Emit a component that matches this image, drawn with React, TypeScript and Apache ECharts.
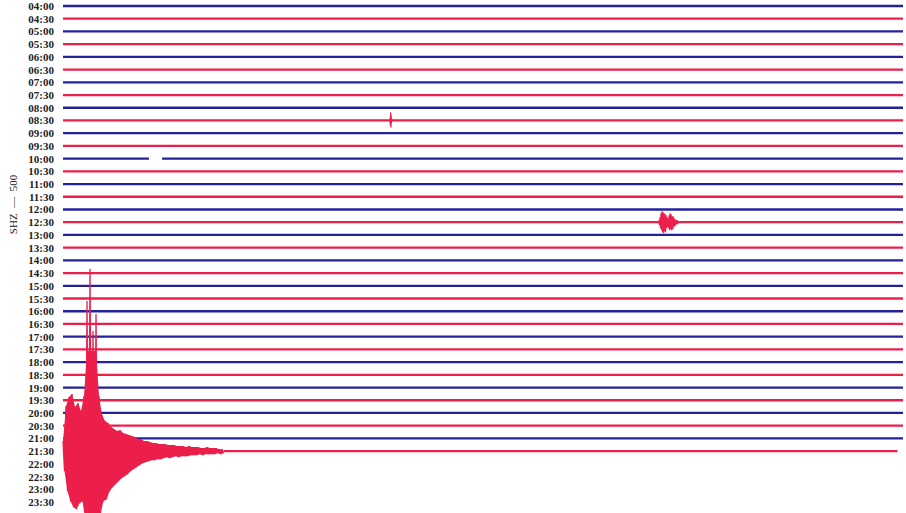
import React, { useEffect, useRef } from "react";
import * as echarts from "echarts";

// Helicorder rows: one line per 30 minutes
const ROW_LABELS = [
  "04:00", "04:30", "05:00", "05:30", "06:00", "06:30", "07:00", "07:30",
  "08:00", "08:30", "09:00", "09:30", "10:00", "10:30", "11:00", "11:30",
  "12:00", "12:30", "13:00", "13:30", "14:00", "14:30", "15:00", "15:30",
  "16:00", "16:30", "17:00", "17:30", "18:00", "18:30", "19:00", "19:30",
  "20:00", "20:30", "21:00", "21:30", "22:00", "22:30", "23:00", "23:30",
];
const ROW_MINUTES = 30; // minutes per row
const LAST_ROW = 35; // 21:30, the row being recorded
const LAST_ROW_END = 29.8; // minutes recorded in the last row
const AMP_PER_ROW = 12.7; // amplitude units per row spacing
const CHANNEL = "SHZ  \u2014  500";

// Data gap in the 10:00 row (minutes)
const GAP_ROW = 12;
const GAP_FROM = 3.07;
const GAP_TO = 3.54;

// Small local event, 08:30 row
const SPIKE_ROW = 9;
const SPIKE_START = 11.67;
const SPIKE_STEP = 0.008;
const SPIKE_AMPS = [1, -2, 3, -5, 8, -7, 5, -3, 2, -1];

// Regional event, 12:30 row
const EVENT_ROW = 17;
const EVENT_START = 21.286;
const EVENT_STEP = 0.018;
const EVENT_AMPS = [
  2, -3, 5, -6, 9, -8, 11, -10, 10, -11, 9, -9, 8, -10, 7, -6, 5, -5, 4, -6,
  7, -8, 9, -7, 8, -8, 6, -7, 6, -5, 4, -4, 3, -3, 2, -2, 2, -2,
];

// Large earthquake at the start of the 21:30 row (alternating peaks)
const QUAKE_START = 0;
const QUAKE_STEP = 0.0536;
const QUAKE_AMPS = [
  10, -20, 45, -40, 54, -50, 57, -56, 44, -58,
  48, -52, 40, -50, 55, -70, 150, -75, 182, -80,
  120, -80, 137, -70, 55, -62, 36, -50, 30, -48,
  28, -40, 24, -36, 22, -33, 20, -30, 21, -27,
  18, -25, 17, -23, 16, -20, 15, -18, 14, -16,
  12, -14, 12, -12, 10, -11, 10, -10, 9, -9,
  8, -9, 8, -8, 7, -8, 7, -7, 7, -6,
  6, -7, 6, -6, 6, -5, 5, -6, 5, -5,
  5, -5, 4, -5, 5, -4, 4, -4, 4, -4,
  4, -3, 3, -4, 3, -3, 4, -3, 3, -3,
  3, -3, 3, -2, 2, -3, 2, -2,
];
const QUAKE_SOLID_CAP = 100; // above this the trace shows as separate spikes

const BLUE = "#22229f";
const RED = "#ec1f4b";

function eventPoints(row: number, start: number, step: number, amps: number[]) {
  return amps.map((a, k) => [start + k * step, row - a / AMP_PER_ROW]);
}

function buildOption() {
  const series: any[] = [];
  for (let r = 0; r <= LAST_ROW; r++) {
    const color = r % 2 === 0 ? BLUE : RED;
    const end = r === LAST_ROW ? LAST_ROW_END : ROW_MINUTES;
    let data: any[] = [];
    if (r === GAP_ROW) {
      data = [[0, r], [GAP_FROM, r], [(GAP_FROM + GAP_TO) / 2, null], [GAP_TO, r], [end, r]];
    } else if (r === LAST_ROW) {
      const lastX = QUAKE_START + (QUAKE_AMPS.length - 1) * QUAKE_STEP;
      data = [[lastX, r], [end, r]];
    } else {
      data = [[0, r], [end, r]];
    }
    series.push({
      type: "line",
      data,
      showSymbol: false,
      symbol: "none",
      silent: true,
      clip: false,
      connectNulls: false,
      lineStyle: { color, width: 2.3 },
      z: 2,
    });
  }

  // solid body of the earthquake: envelope of the recorded peaks
  series.push({
    type: "custom",
    coordinateSystem: "cartesian2d",
    silent: true,
    clip: false,
    z: 4,
    data: [[QUAKE_START, LAST_ROW]],
    renderItem: (_params: any, api: any) => {
      const upper: number[][] = [];
      const lower: number[][] = [];
      QUAKE_AMPS.forEach((a, k) => {
        const x = QUAKE_START + k * QUAKE_STEP;
        if (a >= 0) {
          upper.push(api.coord([x, LAST_ROW - Math.min(a, QUAKE_SOLID_CAP) / AMP_PER_ROW]));
        } else {
          lower.push(api.coord([x, LAST_ROW - a / AMP_PER_ROW]));
        }
      });
      return {
        type: "polygon",
        shape: { points: upper.concat(lower.reverse()) },
        style: { fill: RED },
      };
    },
  });

  const events: [number, number, number, number[]][] = [
    [SPIKE_ROW, SPIKE_START, SPIKE_STEP, SPIKE_AMPS],
    [EVENT_ROW, EVENT_START, EVENT_STEP, EVENT_AMPS],
    [LAST_ROW, QUAKE_START, QUAKE_STEP, QUAKE_AMPS],
  ];
  events.forEach(([row, start, step, amps]) => {
    series.push({
      type: "line",
      data: eventPoints(row, start, step, amps),
      showSymbol: false,
      symbol: "none",
      silent: true,
      clip: false,
      lineStyle: { color: row % 2 === 0 ? BLUE : RED, width: 1.3 },
      z: 5,
    });
  });

  return {
    animation: false,
    backgroundColor: "#ffffff",
    grid: { left: 63, right: 3, top: 6, bottom: 11 },
    xAxis: {
      type: "value",
      min: 0,
      max: ROW_MINUTES,
      show: false,
    },
    yAxis: {
      type: "value",
      inverse: true,
      min: 0,
      max: ROW_LABELS.length - 1,
      interval: 1,
      axisLine: { show: false },
      axisTick: { show: false },
      splitLine: { show: false },
      axisLabel: {
        margin: 9,
        fontFamily: "Liberation Serif",
        fontSize: 11,
        fontWeight: "bold",
        color: "#222",
        formatter: (v: number) => ROW_LABELS[Math.round(v)] ?? "",
      },
    },
    graphic: [
      {
        type: "text",
        x: 12.5,
        y: 204.5,
        rotation: Math.PI / 2,
        style: {
          text: CHANNEL,
          fontFamily: "Liberation Serif",
          fontSize: 11,
          fill: "#222",
          align: "center",
          verticalAlign: "middle",
        },
      },
    ],
    series,
  };
}

export default function App() {
  const ref = useRef<HTMLDivElement>(null);
  useEffect(() => {
    if (!ref.current) return;
    const chart = echarts.init(ref.current, undefined, { renderer: "svg" });
    chart.setOption(buildOption() as any);
    return () => chart.dispose();
  }, []);
  return (
    <div
      ref={ref}
      style={{ width: 906, height: 513, position: "absolute", left: 0, top: 0 }}
    />
  );
}
